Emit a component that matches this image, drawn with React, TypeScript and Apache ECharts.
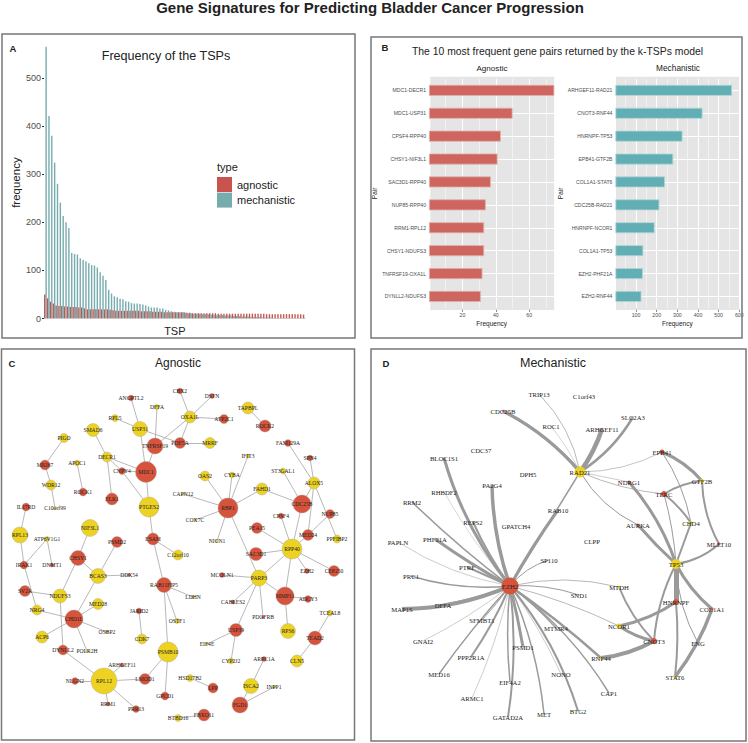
import React, { useEffect, useRef } from "react";
import * as echarts from "echarts";

const mechanisticFreq = [565,421,380,324,280,241,213,200,188,136,134,133,125,122,119,115,111,110,106,96,89,80,60,52,46,44,41,40,36,35,32,31,31,30,29,27,25,23,23,23,21,21,18,17,15,14,13,13,13,12,11,11,10,10,10,9,9,9,8,8,7,7,7,6,6,6,5,5,5,4,4,4,3,3,3,3,2,2,2,2,1,1,1,1,1,1,1,1,1,1,1,1];
const agnosticFreq = [50,42,35,31,27,26,26,25,25,24,24,24,23,23,21,19,19,19,19,19,19,19,19,18,17,16,16,16,16,16,16,16,16,16,15,15,15,15,14,14,14,14,13,13,13,13,13,13,13,13,12,12,11,11,11,11,11,11,11,11,11,10,10,10,10,10,10,10,10,10,10,10,10,10,10,10,10,10,9,9,9,9,9,9,9,9,9,9,9,9,9,8];
const tspIds = agnosticFreq.map((_, i) => String(i + 1));
const tspTicks = [0, 100, 200, 300, 400, 500];

const agnosticPairs = ["MDC1-DECR1","MDC1-USP31","CPSF4-RPP40","CHSY1-NIF3L1","SAC3D1-RPP40","NUP85-RPP40","RRM1-RPL12","CHSY1-NDUFS3","TNFRSF19-OXA1L","DYNLL2-NDUFS3"];
const agnosticPairFreq = [75,50,43,41,37,34,33,33,32,31];
const mechanisticPairs = ["ARHGEF11-RAD21","CNOT3-RNF44","HNRNPF-TP53","EPB41-GTF2B","COL1A1-STAT6","CDC25B-RAD21","HNRNPF-NCOR1","COL1A1-TP53","EZH2-PHF21A","EZH2-RNF44"];
const mechanisticPairFreq = [565,422,325,280,240,213,190,135,133,126];

// network nodes: name, group (r = red, y = yellow), weight, layout x, layout y
type N = [string, string, number, number, number];
const agnosticNodes: N[] = [
["ANGPTL2","r",6,131,398],["CBX2","r",6,180,391],["DFFA","y",5,157,407],["OXA1L","y",12,190,417],["DSTN","r",5,212,396],["ATP2C1","r",9,224,419],["TAPBPL","y",12,248,408],["ROCK2","r",12,265,426],["RPL5","y",7,115,418],["USP31","y",15,140,429],["SMAD6","y",13,93,430],["PDE5A","r",11,180,443],["MRRF","y",11,210,443],["TNFRSF19","r",16,155,446],["PIGO","y",9,64,438],["DECR1","y",10,107,457],["MKI67","r",10,45,465],["APOC1","y",6,77,463],["CNPY4","r",7,122,471],["MDC1","r",21,146,472],["WDR12","y",10,51,485],["ROCK1","r",8,83,492],["ELK1","r",12,112,499],["PTGES2","y",20,149,507],["C10orf99","y",3,55,508],["IL17RD","r",8,26,507],["RPL13","y",16,20,535],["ATP6V1G1","y",5,47,539],["NIF3L1","y",17,90,528],["PSMD2","r",11,117,542],["ESAM","r",12,153,539],["CAPN12","y",3,183,494],["COX7C","y",3,195,520],["NICN1","y",3,217,541],["IFIT3","y",4,248,456],["CYBA","y",6,232,475],["OAS2","y",10,205,476],["RBP1","r",20,228,508],["FAHD1","y",12,262,489],["FAM129A","r",7,288,443],["SPN4","r",6,310,458],["ST3GAL1","y",6,283,471],["ALOX5","y",12,314,483],["CDC25B","r",18,302,504],["CPSF4","r",6,281,516],["NUP85","r",9,330,514],["PEA15","r",11,257,528],["MED24","r",11,308,535],["PPFIBP2","y",8,337,539],["RPP40","y",20,292,549],["SAC3D1","r",13,256,554],["EZH2","r",5,307,571],["CEP250","r",11,334,571],["MCOLN1","r",5,222,575],["PARP3","y",16,259,578],["MMP11","r",18,285,596],["ADCY3","r",7,308,599],["TCEAL8","y",6,330,613],["CABLES2","r",4,233,602],["PDGFRB","r",3,263,617],["USP39","r",13,236,630],["RPS6","y",15,288,631],["TEAD2","r",14,315,638],["EIF4E","y",3,207,644],["CYP2J2","y",6,231,661],["ARPC1A","r",5,264,659],["CLN5","y",12,297,661],["ISCA2","y",15,251,686],["INPP1","y",3,274,687],["FGD1","r",16,240,705],["LPP","r",10,213,688],["HSD17B2","y",7,190,678],["FBXO11","r",12,204,715],["BTBD16","y",7,178,718],["GPCD1","r",8,165,696],["PSMB10","y",20,168,652],["LMOD1","r",11,145,679],["RPL12","y",26,104,681],["ARHGEF11","r",4,122,665],["NLGN2","r",7,75,681],["RRM1","r",4,108,704],["PRR13","r",7,136,709],["DYNLL2","r",10,63,650],["POLR2H","y",3,87,651],["ACP6","y",12,42,637],["CHD1L","r",18,74,619],["OSBP2","y",3,107,632],["MED28","y",11,98,604],["BCAS3","y",15,98,576],["CHSY1","r",15,78,558],["DDX54","r",3,129,575],["NDUFS3","y",14,60,596],["SV2A","r",11,25,591],["NRG4","y",10,37,610],["IRAK1","r",8,24,565],["DNMT1","r",4,52,565],["C12orf10","y",10,178,555],["RAB11FIP5","r",15,164,585],["LDHN","y",3,193,597],["JARID2","r",6,139,611],["CDK7","y",10,142,639],["OSTF1","y",5,177,621],
];
const agnosticEdges = "ANGPTL2-USP31 CBX2-OXA1L DFFA-TNFRSF19 OXA1L-DSTN OXA1L-ATP2C1 OXA1L-TNFRSF19 OXA1L-PDE5A PDE5A-MRRF RPL5-USP31 USP31-PDE5A USP31-MDC1 TNFRSF19-MDC1 SMAD6-DECR1 DECR1-MDC1 DECR1-CNPY4 DECR1-ELK1 CNPY4-PTGES2 CNPY4-MDC1 MDC1-PTGES2 PTGES2-ESAM PIGO-MKI67 MKI67-WDR12 WDR12-C10orf99 APOC1-ROCK1 IL17RD-RPL13 TAPBPL-ROCK2 FAM129A-ALOX5 SPN4-ALOX5 ST3GAL1-CDC25B ALOX5-CDC25B ALOX5-MED24 ALOX5-PPFIBP2 CDC25B-FAHD1 CDC25B-RPP40 MED24-RPP40 MED24-NUP85 FAHD1-RBP1 IFIT3-RBP1 CYBA-RBP1 OAS2-RBP1 CAPN12-RBP1 COX7C-RBP1 NICN1-RBP1 RBP1-PARP3 CPSF4-RPP40 PEA15-RPP40 RPP40-SAC3D1 RPP40-PARP3 RPP40-EZH2 RPP40-CEP250 RPP40-MMP11 PARP3-MCOLN1 PARP3-MMP11 MMP11-ADCY3 MMP11-RPS6 PARP3-CABLES2 PARP3-PDGFRB PARP3-USP39 USP39-EIF4E USP39-CYP2J2 TCEAL8-TEAD2 TEAD2-CLN5 ARPC1A-ISCA2 ISCA2-FGD1 FGD1-INPP1 HSD17B2-LPP BTBD16-FBXO11 PSMB10-RAB11FIP5 PSMB10-LMOD1 PSMB10-GPCD1 RAB11FIP5-ESAM RAB11FIP5-OSTF1 RAB11FIP5-LDHN ESAM-C12orf10 JARID2-CDK7 RPL12-LMOD1 RPL12-ARHGEF11 RPL12-NLGN2 RPL12-RRM1 RPL12-PRR13 RPL12-DYNLL2 DYNLL2-NDUFS3 CHD1L-ACP6 CHD1L-POLR2H CHD1L-OSBP2 CHD1L-MED28 CHD1L-BCAS3 CHD1L-NRG4 BCAS3-DDX54 BCAS3-PSMD2 CHSY1-BCAS3 CHSY1-NDUFS3 CHSY1-NIF3L1 NDUFS3-SV2A NRG4-IRAK1 IRAK1-RPL13 IRAK1-ATP6V1G1 ATP6V1G1-DNMT1".split(" ");

const mechanisticNodes: N[] = [
["TRIP13","n",1,539,394],["C1orf43","n",0,584,396],["CDC25B","r",2,503,411],["SLC2A3","n",1,633,417],["ROC1","n",1,551,426],["ARHGEF11","r",2,602,429],["CDC37","n",0,481,450],["BLOC1S1","r",1,444,458],["EPB41","r",5,662,452],["DPH5","n",0,528,474],["RAD21","y",11,580,472],["GTF2B","y",4,702,481],["NDRG1","r",3,629,482],["PA2G4","y",1,492,485],["RHBDF2","n",1,444,492],["TERC","r",6,664,494],["RRM2","n",1,412,502],["RAB10","n",1,558,510],["REPS2","r",1,473,522],["GPATCH4","n",0,516,526],["AURKA","r",3,638,525],["CHD4","y",4,691,523],["PAPLN","n",1,398,542],["PHF21A","n",1,435,539],["CLPP","y",1,592,541],["MLLT10","r",3,719,544],["TP53","y",10,676,564],["SP110","n",1,549,560],["PTRF","n",1,467,567],["PRC1","n",1,411,576],["EZH2","r",17,510,586],["MTDH","y",3,619,587],["SND1","y",1,579,595],["DFFA","n",1,443,605],["HNRNPF","r",6,676,602],["MAP1S","n",1,402,609],["COL1A1","r",3,712,609],["SFMBT1","n",1,482,620],["NCOR1","y",5,619,626],["MTMR4","n",1,556,628],["GNAI2","n",1,423,641],["CNOT3","r",6,654,641],["ENG","n",1,698,643],["PSMD1","n",1,523,647],["PPP2R1A","n",1,471,657],["RNF44","y",3,601,658],["MED16","n",1,439,674],["NONO","n",1,561,674],["STAT6","y",3,675,677],["EIF4A2","n",1,510,682],["CAP1","n",1,609,693],["ARMC1","n",1,472,698],["BTG2","n",1,578,711],["MET","n",1,544,714],["GATAD2A","n",1,508,717],
];
// source, target, pair frequency weight (drawn width), bend
type E = [string, string, number, number];
const mechanisticEdges: E[] = [
["RAD21","CDC25B",3.5,-0.1],["RAD21","TRIP13",0.7,-0.15],["RAD21","ROC1",0.4,-0.05],["RAD21","ARHGEF11",4.5,-0.08],["RAD21","SLC2A3",2.5,-0.12],["RAD21","EPB41",0.6,-0.12],["RAD21","NDRG1",0.5,0],["RAD21","TERC",0.7,-0.08],["RAD21","AURKA",1,-0.15],["RAD21","EZH2",1.5,0],
["EZH2","RAB10",3,0.03],["EZH2","PA2G4",3.5,0.08],["EZH2","BLOC1S1",3,0.1],["EZH2","REPS2",2,0.05],["EZH2","RHBDF2",0.4,0.05],["EZH2","RRM2",1.5,0.03],["EZH2","PHF21A",3,0.03],["EZH2","PAPLN",0.5,0.1],["EZH2","PTRF",2,0],["EZH2","PRC1",1.5,0.1],["EZH2","MAP1S",4,0.1],["EZH2","DFFA",2,0.05],["EZH2","SFMBT1",1,0.03],["EZH2","GNAI2",0.5,0.05],["EZH2","PPP2R1A",2,0.05],["EZH2","MED16",1.5,-0.03],["EZH2","ARMC1",0.5,0.05],["EZH2","PSMD1",3,0.02],["EZH2","EIF4A2",1.5,-0.05],["EZH2","GATAD2A",2,0.07],["EZH2","MET",1.5,0.08],["EZH2","NONO",0.5,0.05],["EZH2","BTG2",2,0.1],["EZH2","CAP1",1.5,0.1],["EZH2","MTMR4",1.5,0.05],["EZH2","RNF44",2.5,0.03],["EZH2","NCOR1",0.7,0.05],["EZH2","SND1",1,0.1],["EZH2","MTDH",0.7,0.12],["EZH2","SP110",1,0.15],
["TP53","AURKA",3,0.03],["TP53","NDRG1",3,-0.1],["TP53","TERC",1,-0.05],["TP53","CHD4",2,0],["TP53","MLLT10",2,-0.15],["TP53","HNRNPF",5,0],["TP53","CNOT3",2,-0.1],["TP53","COL1A1",3,-0.1],["TP53","ENG",1,-0.12],
["EPB41","GTF2B",3,0.12],["EPB41","CHD4",1,0.1],["TERC","GTF2B",2,0.12],["TERC","CHD4",2,0.08],["GTF2B","MLLT10",2,-0.12],["HNRNPF","STAT6",2,0.05],["HNRNPF","NCOR1",3,0.1],["NCOR1","CNOT3",3,-0.1],["CNOT3","RNF44",4,0.1],["CNOT3","MTDH",2,0.1],["COL1A1","STAT6",3.5,0.08],["ENG","STAT6",0.8,0],
];

const SANS = '"Liberation Sans", Arial, sans-serif';
const SERIF = '"Liberation Serif", "Times New Roman", serif';
const RED = "#D6533C";
const YELLOW = "#EDD221";
const nodeColor: Record<string, string> = { r: RED, y: YELLOW, n: "transparent" };

const txt = (text: string, x: number, y: number, size: number, extra: any = {}) => ({
  type: "text",
  z: 50,
  style: { text, x, y, fill: "#222", font: `${extra.weight || "normal"} ${size}px ${SANS}`, textAlign: extra.align || "center", textVerticalAlign: "middle" },
});
const frame = (x: number, y: number, w: number, h: number) => ({
  type: "rect", z: 40, shape: { x, y, width: w, height: h }, style: { fill: "none", stroke: "#777", lineWidth: 1.5 },
});
const panelBg = (x: number, y: number, w: number, h: number) => ({
  type: "rect", z: -1, shape: { x, y, width: w, height: h }, style: { fill: "#E5E5E5" },
});

const graphSeries = (nodes: N[], links: any[], fontSize: number, nodeStroke: boolean) => ({
  type: "graph",
  coordinateSystem: "cartesian2d",
  xAxisIndex: 5,
  yAxisIndex: 3,
  silent: true,
  z: 5,
  data: nodes.map(([name, group, weight, x, y]) => ({
    name,
    value: [x, y],
    symbolSize: group === "n" ? 0.1 : weight,
    itemStyle: { color: nodeColor[group], borderColor: nodeStroke ? "#aaa" : "transparent", borderWidth: nodeStroke ? 0.4 : 0, opacity: 1 },
  })),
  links,
  label: { show: true, position: "inside", formatter: "{b}", fontFamily: SERIF, fontSize, color: "#222", textBorderWidth: 0, textBorderColor: "transparent" },
  emphasis: { disabled: true },
});

const freqAxis = (grid: number, max: number, interval: number, minor: boolean, ticks: number[]) => ({
  type: "value",
  gridIndex: grid,
  min: 0,
  max,
  interval: minor ? interval / 2 : interval,
  offset: minor ? 0 : 2,
  position: minor ? "top" : "bottom",
  axisLine: { show: false },
  axisTick: minor ? { show: false } : { show: true, customValues: ticks, length: 2, lineStyle: { color: "#333", width: 0.6 } },
  axisLabel: minor ? { show: false } : { show: true, customValues: ticks, fontSize: 5.2, color: "#4d4d4d", fontFamily: SANS, margin: 3 },
  splitLine: { show: true, lineStyle: { color: "#fff", width: minor ? 0.5 : 1 } },
  ...(minor ? {} : { name: "Frequency", nameLocation: "middle", nameGap: 10, nameTextStyle: { fontSize: 6.5, color: "#222", fontFamily: SANS } }),
});
const pairAxis = (grid: number, data: string[], gap: number) => ({
  type: "category",
  gridIndex: grid,
  data,
  inverse: true,
  axisLine: { show: false },
  axisTick: { length: 2, alignWithLabel: true, lineStyle: { color: "#333", width: 0.6 } },
  axisLabel: { fontSize: 5.1, color: "#4d4d4d", fontFamily: SANS, margin: 3 },
  splitLine: { show: true, alignWithLabel: true, lineStyle: { color: "#fff", width: 1 } },
  name: "Pair",
  nameLocation: "middle",
  nameGap: gap,
  nameRotate: 90,
  nameTextStyle: { fontSize: 6.5, color: "#222", fontFamily: SANS },
});

export default function App() {
  const ref = useRef<HTMLDivElement>(null);
  useEffect(() => {
    const chart = echarts.init(ref.current!, undefined, { renderer: "svg" });
    chart.setOption({
      animation: false,
      backgroundColor: "#fff",
      grid: [
        { left: 44, top: 46.7, width: 261.7, height: 271.8 },
        { left: 429, top: 78.9, width: 125.3, height: 229 },
        { left: 615.4, top: 78.9, width: 123.9, height: 229 },
        { left: 0, top: 0, width: 748, height: 743 },
      ],
      xAxis: [
        {
          type: "category", gridIndex: 0, data: tspIds,
          axisLine: { show: false },
          axisTick: { length: 2, interval: 0, lineStyle: { color: "#000", width: 1 } },
          axisLabel: { show: false },
          name: "TSP", nameLocation: "middle", nameGap: 7,
          nameTextStyle: { fontSize: 11, color: "#222", fontFamily: SANS },
        },
        freqAxis(1, 75, 20, false, [20, 40, 60]),
        freqAxis(1, 75, 20, true, []),
        freqAxis(2, 600, 100, false, [100, 200, 300, 400, 500, 600]),
        freqAxis(2, 600, 100, true, []),
        { type: "value", gridIndex: 3, min: 0, max: 748, show: false },
      ],
      yAxis: [
        {
          type: "value", gridIndex: 0, min: 0, max: 565,
          axisLine: { show: false },
          axisTick: { show: true, customValues: tspTicks, length: 2, lineStyle: { color: "#333", width: 1 } },
          axisLabel: { customValues: tspTicks, fontSize: 9, color: "#4d4d4d", fontFamily: SANS, margin: 3 },
          splitLine: { show: false },
          name: "frequency", nameLocation: "middle", nameGap: 22, nameRotate: 90,
          nameTextStyle: { fontSize: 11.5, color: "#222", fontFamily: SANS },
        },
        pairAxis(1, agnosticPairs, 43),
        pairAxis(2, mechanisticPairs, 45),
        { type: "value", gridIndex: 3, min: 0, max: 743, inverse: true, show: false },
      ],
      legend: {
        left: 217, top: 177, orient: "vertical", itemWidth: 15, itemHeight: 15, itemGap: 0.6, padding: 0, icon: "rect",
        data: ["agnostic", "mechanistic"],
        textStyle: { fontSize: 11, color: "#222", fontFamily: SANS },
        selectedMode: false,
      },
      series: [
        { name: "agnostic", type: "bar", xAxisIndex: 0, yAxisIndex: 0, data: agnosticFreq, barWidth: 1.4, barGap: "0%", itemStyle: { color: "#C9544F" } },
        { name: "mechanistic", type: "bar", xAxisIndex: 0, yAxisIndex: 0, data: mechanisticFreq, barWidth: 1.4, barGap: "0%", itemStyle: { color: "#5F9EA0", opacity: 0.85 } },
        { name: "Agnostic", type: "bar", xAxisIndex: 1, yAxisIndex: 1, data: agnosticPairFreq, barWidth: 11, itemStyle: { color: "#CE655F", borderColor: "#E0B0AC", borderWidth: 0.8 } },
        { name: "Mechanistic", type: "bar", xAxisIndex: 3, yAxisIndex: 2, data: mechanisticPairFreq, barWidth: 11, itemStyle: { color: "#62AEB5", borderColor: "#B5D5D8", borderWidth: 0.8 } },
        graphSeries(agnosticNodes, agnosticEdges.map((e) => {
          const [source, target] = e.split("-");
          return { source, target, lineStyle: { color: "#a6a6a6", width: 0.8, curveness: 0, opacity: 1 } };
        }), 5.6, true),
        graphSeries(mechanisticNodes, mechanisticEdges.map(([source, target, width, curveness]) => ({
          source, target, lineStyle: { color: "#9a9a9a", width, curveness, opacity: 1 },
        })), 6.7, false),
      ],
      graphic: [
        panelBg(430.3, 76.7, 124, 233.3),
        panelBg(616, 76.7, 123.3, 233.3),
        frame(2, 34, 353, 304),
        frame(371, 37, 371, 301),
        frame(1.5, 349, 353, 391),
        frame(371, 349, 375, 392),
        txt("Gene Signatures for Predicting Bladder Cancer Progression", 370, 7, 15, { weight: "bold" }),
        txt("A", 13, 48, 9.5, { weight: "bold" }),
        txt("B", 385, 47.7, 9.5, { weight: "bold" }),
        txt("C", 12, 363, 9.5, { weight: "bold" }),
        txt("D", 386, 363, 9.5, { weight: "bold" }),
        txt("Frequency of the TSPs", 166, 56, 12.6),
        txt("type", 217, 167, 11, { align: "left" }),
        txt("The 10 most frequent gene pairs returned by the k-TSPs model", 557.5, 51.5, 10.4),
        txt("Agnostic", 492, 68, 8.1),
        txt("Mechanistic", 678, 68, 8.3),
        txt("Agnostic", 178, 363, 12),
        txt("Mechanistic", 553, 363, 12.5),
      ],
    });
    return () => chart.dispose();
  }, []);
  return <div ref={ref} style={{ position: "fixed", left: 0, top: 0, width: 748, height: 743 }} />;
}
